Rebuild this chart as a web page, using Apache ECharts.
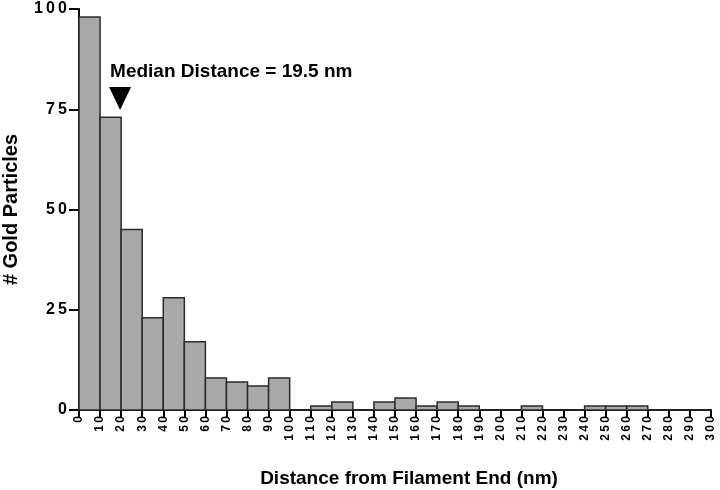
<!DOCTYPE html>
<html>
<head>
<meta charset="utf-8">
<script src="https://cdn.jsdelivr.net/npm/echarts@6/dist/echarts.min.js"></script>
<style>
  html, body { margin: 0; padding: 0; background: #fff; }
  #chart { width: 720px; height: 490px; }
</style>
</head>
<body>
<div id="chart"></div>
<script>
// histogram bins (nm) and counts
const binStart = [0, 10, 20, 30, 40, 50, 60, 70, 80, 90, 100, 110, 120, 130, 140,
  150, 160, 170, 180, 190, 200, 210, 220, 230, 240, 250, 260, 270, 280, 290];
const counts = [98, 73, 45, 23, 28, 17, 8, 7, 6, 8, 0, 1, 2, 0, 2,
  3, 1, 2, 1, 0, 0, 1, 0, 0, 1, 1, 1, 0, 0, 0];
const binWidth = 10;
const medianValue = 19.5;
const medianLabel = "Median Distance = 19.5 nm";

let histData = [];
binStart.forEach((s, i) => {
  histData.push([s, s + binWidth, counts[i]]);
});

// the original labels are letter-spaced, thin spaces imitate that
function spaced(v) {
  return String(v).split("").join("\u2009");
}

let myCharts = echarts.init(document.getElementById("chart"));
let font = "Liberation Sans, Arial, sans-serif";
let option = {
  backgroundColor: "#fff",
  animation: false,
  grid: {
    left: 79,
    right: 9,
    top: 9,
    bottom: 80,
    containLabel: false,
    outerBoundsMode: "none",
  },
  xAxis: {
    type: "value",
    min: 0,
    max: 300,
    interval: 10,
    name: "Distance from Filament End (nm)",
    nameLocation: "middle",
    nameGap: 59,
    nameTextStyle: {
      fontFamily: font, fontWeight: "bold", fontSize: 19, color: "#000",
      padding: [0, 0, 0, 28],
    },
    splitLine: { show: false },
    axisLine: { lineStyle: { color: "#000", width: 2 } },
    axisTick: { length: 7, lineStyle: { color: "#000", width: 2 } },
    axisLabel: {
      rotate: 90,
      fontFamily: font,
      fontWeight: "bold",
      fontSize: 12,
      color: "#000",
      margin: 6,
      formatter: spaced,
    },
  },
  yAxis: {
    type: "value",
    min: 0,
    max: 100,
    interval: 25,
    name: "# Gold Particles",
    nameLocation: "middle",
    nameGap: 58,
    nameTextStyle: { fontFamily: font, fontWeight: "bold", fontSize: 20, color: "#000" },
    splitLine: { show: false },
    axisLine: { show: true, lineStyle: { color: "#000", width: 2 } },
    axisTick: { show: true, length: 10, lineStyle: { color: "#000", width: 2 } },
    axisLabel: {
      fontFamily: font,
      fontWeight: "bold",
      fontSize: 16,
      color: "#000",
      margin: 12,
      formatter: spaced,
    },
  },
  series: [
    {
      type: "custom",
      data: histData,
      renderItem: function (params, api) {
        let p0 = api.coord([api.value(0), api.value(2)]);
        let p1 = api.coord([api.value(1), 0]);
        return {
          type: "rect",
          shape: { x: p0[0], y: p0[1], width: p1[0] - p0[0], height: p1[1] - p0[1] },
          style: { fill: "#a9a9a9", stroke: "#2b2b2b", lineWidth: 1.5 },
        };
      },
      z: 1,
    },
    {
      // median marker
      type: "scatter",
      data: [[medianValue, 77.7]],
      symbol: "triangle",
      symbolRotate: 180,
      symbolSize: [22, 23],
      itemStyle: { color: "#000", opacity: 1 },
      label: {
        show: true,
        position: [1, -25],
        formatter: medianLabel,
        fontFamily: font,
        fontWeight: "bold",
        fontSize: 19,
        color: "#000",
      },
      z: 3,
    },
  ],
};
myCharts.setOption(option);
</script>
</body>
</html>
